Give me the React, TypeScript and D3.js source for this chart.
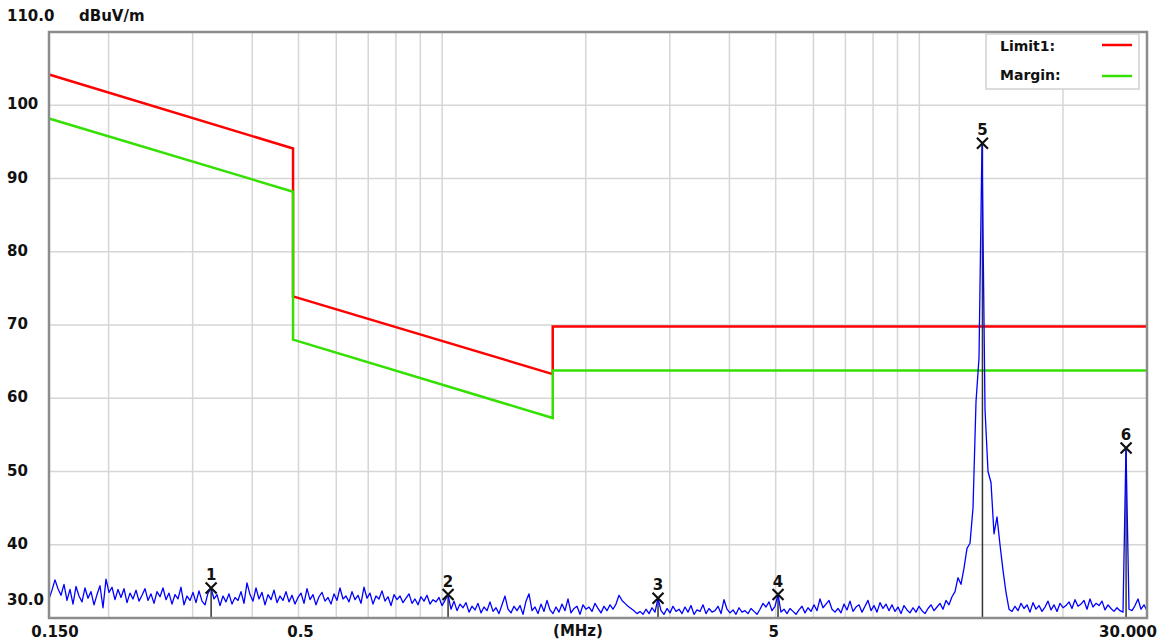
import * as d3 from "d3";

// measured trace, dBuV/m, evenly spaced on the log frequency axis 0.15..30 MHz
const F_START = 0.15;
const F_STOP = 30;
const traceLevels: number[] = [
  32.6, 33.8, 35.2, 34.0, 33.1, 34.6, 32.4, 33.9, 31.9, 34.3, 33.0, 32.2, 34.1, 32.7, 33.6, 31.8, 33.2, 34.4, 31.4, 35.3,
  33.5, 34.2, 32.5, 33.9, 32.8, 34.0, 32.1, 33.4, 32.6, 33.8, 32.3, 33.1, 34.0, 32.4, 33.3, 32.0, 33.6, 32.9, 34.1, 32.5,
  33.4, 31.9, 33.2, 32.6, 34.2, 31.8, 33.0, 32.4, 33.5, 32.1, 33.7, 32.3, 31.8, 33.4, 34.1, 32.6, 33.2, 31.7, 33.0, 32.2,
  33.3, 31.9, 32.8, 32.4, 33.6, 32.0, 34.8, 33.2, 32.3, 34.1, 32.6, 33.5, 31.8, 33.2, 32.5, 33.8, 32.1, 33.0, 32.4, 33.6,
  32.2, 33.1, 31.9, 32.8, 33.4, 32.0, 34.0, 32.5, 33.2, 31.8, 32.9, 33.5, 32.3, 32.8, 31.9, 33.3, 32.4, 34.1, 32.6, 33.0,
  32.2, 33.6, 32.5, 33.1, 32.0, 34.2, 32.7, 33.4, 31.9, 33.0, 32.6, 33.7, 32.3, 32.9, 31.7, 33.2, 32.5, 33.0, 32.1, 32.7,
  33.3, 32.0, 32.6, 31.8, 32.9, 32.3, 33.1, 31.9, 32.5, 32.2, 32.8, 31.7, 32.4, 33.2, 31.2, 32.3, 31.0, 31.9, 31.4, 32.1,
  30.8, 31.6, 31.1, 32.0, 30.7, 31.5, 31.0, 32.2, 30.9, 31.4, 30.6, 31.8, 33.0, 31.2, 30.7, 31.6, 31.0, 31.7, 30.5, 32.3,
  33.3, 31.0, 31.5, 30.6, 31.9, 30.9, 32.4, 31.1, 30.6, 31.5, 30.8, 31.9, 31.0, 32.6, 30.7, 31.3, 31.6, 30.5, 31.8, 31.2,
  31.5, 30.9, 32.0, 31.3, 30.7, 31.6, 31.0, 31.8, 31.2, 31.9, 33.1, 32.4, 32.0, 31.6, 31.3, 31.0, 30.6, 30.9, 30.5, 31.2,
  30.6, 31.4, 30.8, 32.7, 31.0, 30.5, 31.3, 30.7, 31.6, 30.9, 31.2, 30.6, 31.5, 30.8, 31.7, 30.5, 31.1, 30.9, 31.8, 30.6,
  31.3, 30.8, 31.0, 31.6, 30.6, 32.5, 31.2, 30.7, 31.1, 30.5, 31.4, 30.8, 31.0, 30.6, 31.3, 30.9, 30.5, 31.2, 32.0, 31.5,
  32.2, 31.0, 31.6, 33.2, 30.8, 31.2, 30.6, 31.3, 30.9, 30.5, 31.1, 31.6, 30.7, 31.4, 30.9, 31.8, 31.0, 32.6, 31.4, 31.9,
  32.4, 31.2, 30.8, 31.3, 30.7, 31.9, 31.1, 32.3, 30.9, 31.5, 31.8, 30.8, 31.6, 32.4, 31.0, 31.7, 30.8, 32.1, 31.3, 31.9,
  31.0, 31.8, 30.9, 31.5, 30.6, 31.7, 31.1, 30.7, 31.4, 30.8, 31.6, 31.0, 30.6, 31.3, 31.8, 31.0, 31.5, 32.0, 31.2, 32.4,
  31.8, 32.9, 33.6, 35.5, 34.6, 36.8, 39.5, 40.2, 45.0, 59.5, 65.5, 94.8, 58.5, 50.0, 48.5, 41.5, 43.8, 40.0, 36.5, 33.5, 31.2,
  30.9, 31.6, 31.0, 32.0, 31.3, 31.8, 30.8, 32.1, 31.2, 31.7, 30.9, 31.5, 32.3, 31.1, 31.8, 30.9, 32.0, 31.4, 31.7, 32.2,
  31.3, 32.5, 31.6, 31.9, 32.4, 31.2, 32.6, 31.5, 32.0, 31.7, 32.3, 31.1, 31.8, 31.3, 30.9, 31.4, 31.0, 30.8,
  53.2, 31.2,
  31.0, 31.7, 32.6, 31.2, 31.8, 31.0,
];

// limit lines
const limitFreqs = [0.15, 0.487, 0.487, 1.705, 1.705, 30];
const limit1Levels = [104.2, 94.1, 73.9, 63.3, 69.8, 69.8];
const marginLevels = [98.2, 88.2, 68.0, 57.3, 63.8, 63.8];

// peak markers
const markerNums = ["1", "2", "3", "4", "5", "6"];
const markerFreqs = [0.328, 1.029, 2.834, 5.057, 13.56, 27.12];
const markerLevels = [34.1, 33.2, 32.7, 33.2, 94.8, 53.2];

// axes
const gridFreqs = [0.2, 0.3, 0.4, 0.5, 0.6, 0.7, 0.8, 0.9, 1, 2, 3, 4, 5, 6, 7, 8, 9, 10, 20];
const gridLevels = [40, 50, 60, 70, 80, 90, 100];
const yTickLabels = ["40", "50", "60", "70", "80", "90", "100"];
const xTickFreqs = [0.15, 0.5, 5, 30];
const xTickLabels = ["0.150", "0.5", "5", "30.000"];

const legendNames = ["Limit1:", "Margin:"];
const legendColors = ["#ff0000", "#33e000"];

const W = 1158;
const H = 644;
const FONT = "'DejaVu Sans', sans-serif";

export default function App() {
  const left = 49;
  const right = 1147;
  const top = 32;
  const bottom = 618;

  const x = d3.scaleLog().domain([F_START, F_STOP]).range([left, right]);
  const y = d3.scaleLinear().domain([30, 110]).range([bottom, top]);

  const n = traceLevels.length;
  const traceFreqs = traceLevels.map((_, i) => F_START * Math.pow(F_STOP / F_START, i / (n - 1)));

  const line = d3
    .line<number>()
    .x((_, i) => x(traceFreqs[i]))
    .y((d) => y(d));

  const limitLine = (levels: number[]) =>
    d3
      .line<number>()
      .x((_, i) => x(limitFreqs[i]))
      .y((d) => y(d))(levels) ?? "";

  const xTickOffset = [6, 2, -2, 0];

  return (
    <svg
      width={W}
      height={H}
      style={{ position: "absolute", left: 0, top: 0, background: "#fff" }}
      fontFamily={FONT}
      fontWeight="bold"
    >
      <rect x={0} y={0} width={W} height={H} fill="#fff" />

      {/* grid */}
      <g stroke="#d6d6d6" strokeWidth={1.5}>
        {gridFreqs.map((f) => (
          <line key={"gx" + f} x1={x(f)} x2={x(f)} y1={top} y2={bottom} />
        ))}
        {gridLevels.map((v) => (
          <line key={"gy" + v} x1={left} x2={right} y1={y(v)} y2={y(v)} />
        ))}
      </g>

      {/* limit and margin */}
      <path d={limitLine(limit1Levels)} fill="none" stroke={legendColors[0]} strokeWidth={2.5} />
      <path d={limitLine(marginLevels)} fill="none" stroke={legendColors[1]} strokeWidth={2.5} />

      {/* marker stems */}
      <g stroke="#333" strokeWidth={1.5}>
        {markerFreqs.map((f, i) => (
          <line key={"st" + i} x1={x(f)} x2={x(f)} y1={y(markerLevels[i])} y2={bottom} />
        ))}
      </g>

      {/* trace */}
      <path d={line(traceLevels) ?? ""} fill="none" stroke="#0000ff" strokeWidth={1.3} strokeLinejoin="round" />

      {/* markers */}
      {markerFreqs.map((f, i) => {
        const cx = x(f);
        const cy = y(markerLevels[i]);
        return (
          <g key={"mk" + i}>
            <path
              d={`M${cx - 5.5},${cy - 5.5}L${cx + 5.5},${cy + 5.5}M${cx - 5.5},${cy + 5.5}L${cx + 5.5},${cy - 5.5}`}
              stroke="#111"
              strokeWidth={2.2}
            />
            <text x={cx} y={cy - 8} textAnchor="middle" fontSize={15} fill="#111">
              {markerNums[i]}
            </text>
          </g>
        );
      })}

      {/* frame */}
      <rect
        x={left}
        y={top}
        width={right - left}
        height={bottom - top}
        fill="none"
        stroke="#8c8c8c"
        strokeWidth={2.5}
      />

      {/* legend */}
      <rect x={986} y={34} width={153} height={55} fill="#fff" stroke="#d0d0d0" strokeWidth={1.5} />
      {legendNames.map((name, i) => (
        <g key={name}>
          <text x={1000} y={51 + i * 29} fontSize={14} fill="#111">
            {name}
          </text>
          <line x1={1102} x2={1132} y1={45 + i * 31} y2={45 + i * 31} stroke={legendColors[i]} strokeWidth={2.5} />
        </g>
      ))}

      {/* y labels */}
      <g fontSize={15} fill="#111">
        <text x={7} y={21}>110.0</text>
        <text x={79} y={21}>dBuV/m</text>
        {gridLevels.map((v, i) => (
          <text key={"yl" + v} x={7} y={y(v) + 4}>
            {yTickLabels[i]}
          </text>
        ))}
        <text x={7} y={605}>30.0</text>
      </g>

      {/* x labels */}
      <g fontSize={15} fill="#111">
        {xTickFreqs.map((f, i) =>
          i === xTickFreqs.length - 1 ? (
            <text key={"xl" + f} x={W - 1} y={637} textAnchor="end">
              {xTickLabels[i]}
            </text>
          ) : (
            <text key={"xl" + f} x={x(f) + xTickOffset[i]} y={637} textAnchor="middle">
              {xTickLabels[i]}
            </text>
          ),
        )}
        <text x={578} y={636} textAnchor="middle">(MHz)</text>
      </g>
    </svg>
  );
}
